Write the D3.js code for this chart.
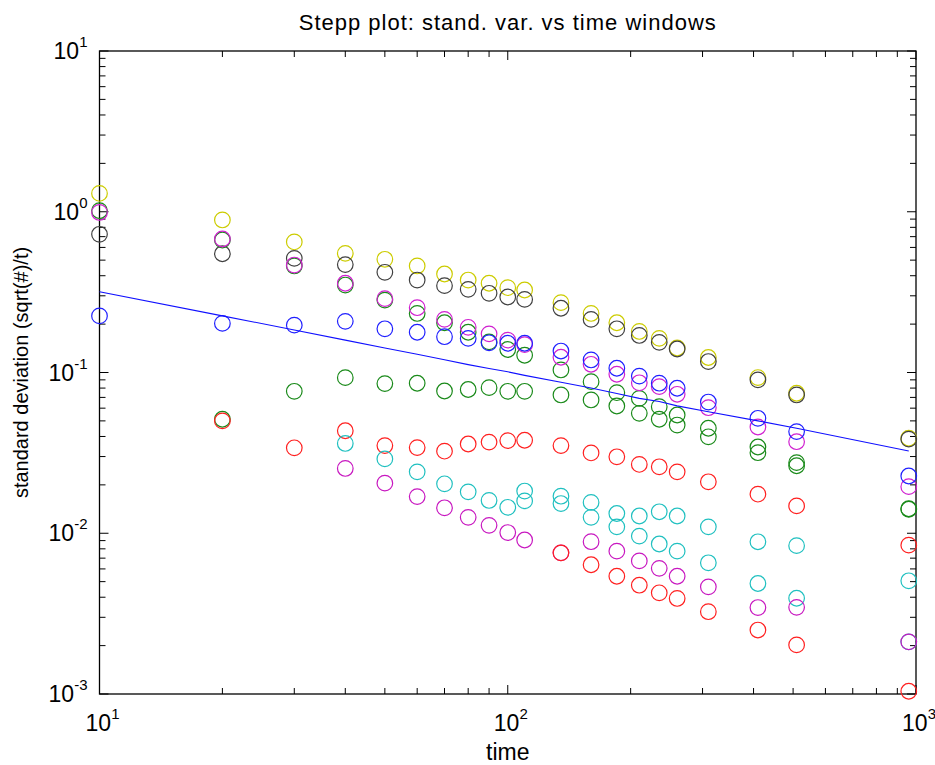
<!DOCTYPE html>
<html>
<head>
<meta charset="utf-8">
<script src="https://cdn.jsdelivr.net/npm/d3@7"></script>
<style>
  body { margin: 0; background: #fff; }
  svg text { font-family: "Liberation Sans", Arial, Helvetica, sans-serif; fill: #000; }
</style>
</head>
<body>
<div id="chart"></div>
<script>
// Stepp plot: standard deviation against time window, log-log

const times = [10, 20, 30, 40, 50, 60, 70, 80, 90, 100, 110, 135, 160, 185, 210, 235, 260, 310, 410, 510, 960];

// one array per marker series (null = no point)
const yellowVals = [1.30, 0.889, 0.649, 0.551, 0.506, 0.460, 0.410, 0.376, 0.359, 0.337, 0.326, 0.272, 0.233, 0.204, 0.180, 0.163, 0.142, 0.124, 0.093, 0.0743, 0.039];
const blackVals = [0.724, 0.548, 0.513, 0.469, 0.420, 0.376, 0.347, 0.329, 0.311, 0.295, 0.285, 0.251, 0.214, 0.187, 0.170, 0.154, 0.140, 0.117, 0.090, 0.0725, 0.0385];
const greenUpVals = [1.015, 0.667, 0.46, 0.350, 0.282, 0.233, 0.204, 0.178, 0.155, 0.139, 0.128, 0.1037, 0.0877, 0.0749, 0.0690, 0.0613, 0.0544, 0.0450, 0.0344, 0.0275, 0.0142];
const magentaUpVals = [0.99, 0.677, 0.466, 0.359, 0.288, 0.253, 0.214, 0.191, 0.174, 0.159, 0.149, 0.1244, 0.1125, 0.0975, 0.0863, 0.0817, 0.0732, 0.0604, 0.0458, 0.0371, 0.0195];
const blueVals = [0.225, 0.202, 0.197, 0.208, 0.187, 0.178, 0.167, 0.163, 0.153, 0.152, 0.152, 0.136, 0.1197, 0.1063, 0.0950, 0.0858, 0.0798, 0.0655, 0.0519, 0.0429, 0.0227];
const greenMidVals = [null, 0.0512, 0.0764, 0.0929, 0.0853, 0.0857, 0.0767, 0.0784, 0.0805, 0.0764, 0.0764, 0.0725, 0.0675, 0.0619, 0.0557, 0.0512, 0.0471, 0.0398, 0.0317, 0.0263, 0.0141];
const redUpVals = [null, 0.050, 0.034, 0.0434, 0.0351, 0.0341, 0.0324, 0.0359, 0.0369, 0.0377, 0.0379, 0.0351, 0.0316, 0.0299, 0.0268, 0.0259, 0.0241, 0.0209, 0.0175, 0.0148, 0.00843];
const cyanLowVals = [null, null, null, 0.0362, 0.029, 0.0241, 0.0203, 0.0181, 0.0160, 0.0145, 0.0159, 0.0153, 0.01256, 0.01096, 0.0096, 0.00857, 0.00774, 0.00655, 0.00487, 0.00394, 0.00211];
const cyanUpVals = [null, null, null, null, null, null, null, null, null, null, 0.0183, 0.0170, 0.01556, 0.01327, 0.0128, 0.0136, 0.0128, 0.01096, 0.00885, 0.00837, 0.00506];
const magentaLowVals = [null, null, null, 0.0253, 0.0205, 0.0169, 0.0144, 0.01256, 0.0112, 0.0101, 0.00908, 0.00755, 0.00886, 0.00774, 0.00673, 0.00605, 0.0054, 0.00464, 0.00345, 0.00346, 0.00211];
const redLowVals = [null, null, null, null, null, null, null, null, null, null, null, 0.00755, 0.00637, 0.0054, 0.00475, 0.00426, 0.00393, 0.00325, 0.0025, 0.00202, 0.00104];

// reference line
const lineVals = [0.318, 0.225, 0.184, 0.159, 0.142, 0.130, 0.120, 0.112, 0.106, 0.101, 0.096, 0.087, 0.080, 0.074, 0.069, 0.066, 0.062, 0.057, 0.050, 0.045, 0.0325];

const seriesList = [
  { vals: yellowVals, color: "#cccc00" },
  { vals: blackVals, color: "#404040" },
  { vals: greenUpVals, color: "#1a8a1a" },
  { vals: magentaUpVals, color: "#d020d0" },
  { vals: blueVals, color: "#2020ff" },
  { vals: greenMidVals, color: "#1a8a1a" },
  { vals: redUpVals, color: "#ff2020" },
  { vals: cyanLowVals, color: "#20c0c0" },
  { vals: cyanUpVals, color: "#20c0c0" },
  { vals: magentaLowVals, color: "#c818c0" },
  { vals: redLowVals, color: "#ff2020" }
];

const xMajor = [10, 100, 1000];
const yMajor = [1e-3, 1e-2, 1e-1, 1, 10];

const W = 935, H = 765;
const margin = { top: 51, right: 19, bottom: 71, left: 99.5 };
const width = W - margin.left - margin.right;
const height = H - margin.top - margin.bottom;

const svg = d3.select("#chart").append("svg")
  .attr("width", W)
  .attr("height", H);

const g = svg.append("g")
  .attr("transform", `translate(${margin.left},${margin.top})`);

const x = d3.scaleLog().domain([10, 1000]).range([0, width]);
const y = d3.scaleLog().domain([1e-3, 10]).range([height, 0]);

// minor tick values
const xMinor = [];
[10, 100].forEach(d => { for (let k = 2; k <= 9; k++) xMinor.push(d * k); });
const yMinor = [];
[1e-3, 1e-2, 1e-1, 1].forEach(d => { for (let k = 2; k <= 9; k++) yMinor.push(d * k); });

// ticks pointing inward on all four sides
function ticksX(vals, len) {
  g.append("g").selectAll("line.b").data(vals).enter().append("line")
    .attr("x1", d => x(d)).attr("x2", d => x(d))
    .attr("y1", height).attr("y2", height - len)
    .attr("stroke", "#000").attr("stroke-width", 1);
  g.append("g").selectAll("line.t").data(vals).enter().append("line")
    .attr("x1", d => x(d)).attr("x2", d => x(d))
    .attr("y1", 0).attr("y2", len)
    .attr("stroke", "#000").attr("stroke-width", 1);
}
function ticksY(vals, len) {
  g.append("g").selectAll("line.l").data(vals).enter().append("line")
    .attr("y1", d => y(d)).attr("y2", d => y(d))
    .attr("x1", 0).attr("x2", len)
    .attr("stroke", "#000").attr("stroke-width", 1);
  g.append("g").selectAll("line.r").data(vals).enter().append("line")
    .attr("y1", d => y(d)).attr("y2", d => y(d))
    .attr("x1", width).attr("x2", width - len)
    .attr("stroke", "#000").attr("stroke-width", 1);
}
ticksX(xMinor, 6);
ticksX(xMajor, 9);
ticksY(yMinor, 6);
ticksY(yMajor, 9);

// box
g.append("rect")
  .attr("width", width).attr("height", height)
  .attr("fill", "none").attr("stroke", "#000").attr("stroke-width", 1.3);

// tick labels 10^n
const expOf = d => Math.round(Math.log10(d));

const xl = g.append("g").selectAll("text").data(xMajor).enter().append("text")
  .attr("x", d => x(d) + 3)
  .attr("y", height + 37)
  .attr("text-anchor", "middle")
  .style("font-size", "23px");
xl.append("tspan").text("10");
xl.append("tspan").attr("dy", -12).style("font-size", "15px").text(d => expOf(d));

const yl = g.append("g").selectAll("text").data(yMajor).enter().append("text")
  .attr("x", -12)
  .attr("y", d => y(d) + 8)
  .attr("text-anchor", "end")
  .style("font-size", "23px");
yl.append("tspan").text("10");
yl.append("tspan").attr("dy", -12).style("font-size", "15px").text(d => expOf(d));

// markers
seriesList.forEach(s => {
  const pts = times.map((t, i) => ({ t: t, v: s.vals[i] })).filter(p => p.v != null);
  g.append("g").selectAll("circle").data(pts).enter().append("circle")
    .attr("cx", p => x(p.t))
    .attr("cy", p => y(p.v))
    .attr("r", 7.8)
    .attr("fill", "none")
    .attr("stroke", s.color)
    .attr("stroke-width", 1.2);
});

// fitted line
const line = d3.line()
  .x((d, i) => x(times[i]))
  .y(d => y(d));
g.append("path")
  .datum(lineVals)
  .attr("d", line)
  .attr("fill", "none")
  .attr("stroke", "#1010ff")
  .attr("stroke-width", 1.1);

// title and axis labels
svg.append("text")
  .attr("x", margin.left + width / 2)
  .attr("y", 30)
  .attr("text-anchor", "middle")
  .style("font-size", "22px")
  .style("letter-spacing", "1px")
  .text("Stepp plot: stand. var. vs time windows");

svg.append("text")
  .attr("x", margin.left + width / 2)
  .attr("y", 760)
  .attr("text-anchor", "middle")
  .style("font-size", "23px")
  .text("time");

svg.append("text")
  .attr("transform", `translate(28,${margin.top + height / 2}) rotate(-90)`)
  .attr("text-anchor", "middle")
  .style("font-size", "20px")
  .text("standard deviation (sqrt(#)/t)");
</script>
</body>
</html>
